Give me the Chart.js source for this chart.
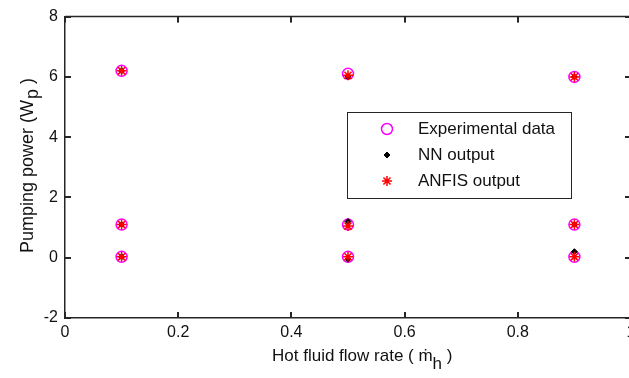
<!DOCTYPE html>
<html>
<head>
<meta charset="utf-8">
<script src="https://cdn.jsdelivr.net/npm/chart.js@4.4.0/dist/chart.umd.min.js"></script>
<style>
  html, body { margin: 0; padding: 0; background: #fff; overflow: hidden; }
  #wrap { width: 700px; height: 378px; }
</style>
</head>
<body>
<div id="wrap"><canvas id="myChart" width="700" height="378"></canvas></div>
<script>
// flow rate points (x) and the three series
const flowRate = [0.1, 0.1, 0.1, 0.5, 0.5, 0.5, 0.9, 0.9, 0.9];
const experimental = [6.2, 1.1, 0.03, 6.1, 1.1, 0.03, 6.0, 1.1, 0.03];
const nnOutput = [6.2, 1.1, 0.03, 6.0, 1.2, -0.05, 6.0, 1.1, 0.2];
const anfisOutput = [6.2, 1.1, 0.03, 6.05, 1.05, 0.03, 6.0, 1.1, 0.03];

const xTicks = [0, 0.2, 0.4, 0.6, 0.8, 1];
const yTicks = [-2, 0, 2, 4, 6, 8];

const FONT = '"Liberation Sans", Arial, "DejaVu Sans", sans-serif';
const AXIS = '#262626';

const pts = (ys) => ys.map((y, i) => ({ x: flowRate[i], y: y }));

// axis titles with sub-scripts, inward ticks, top/right box, legend box
const extras = {
    id: 'extras',
    afterDraw(chart) {
        const ctx = chart.ctx;
        const a = chart.chartArea;
        const xs = chart.scales.x, ys = chart.scales.y;
        ctx.save();

        // box top + right
        ctx.strokeStyle = AXIS;
        ctx.lineWidth = 1.5;
        ctx.beginPath();
        ctx.moveTo(a.left, a.top);
        ctx.lineTo(a.right, a.top);
        ctx.lineTo(a.right, a.bottom);
        ctx.stroke();

        // inward ticks
        ctx.fillStyle = AXIS;
        xTicks.forEach(v => {
            const px = Math.round(xs.getPixelForValue(v));
            ctx.fillRect(px - 1, a.bottom - 6, 2, 6);
            ctx.fillRect(px - 1, a.top, 2, 6);
        });
        yTicks.forEach(v => {
            const py = Math.round(ys.getPixelForValue(v));
            ctx.fillRect(a.left, py - 1, 6, 2);
            ctx.fillRect(a.right - 6, py - 1, 6, 2);
        });

        // x title: Hot fluid flow rate ( m-dot_h )
        ctx.fillStyle = '#111';
        ctx.font = '17px ' + FONT;
        ctx.textBaseline = 'alphabetic';
        ctx.textAlign = 'left';
        let x = 272;
        const base = 361;
        const s1 = 'Hot fluid flow rate ( ';
        ctx.fillText(s1, x, base); x += ctx.measureText(s1).width;
        ctx.fillText('\u1E41', x, base); x += ctx.measureText('\u1E41').width;
        ctx.fillText('h', x, base + 8); x += ctx.measureText('h').width;
        ctx.fillText(' )', x, base);

        // y title: Pumping power (W_p)
        ctx.font = '18px ' + FONT;
        ctx.translate(33, 253);
        ctx.rotate(-Math.PI / 2);
        let u = 0;
        const t1 = 'Pumping power (W';
        ctx.fillText(t1, u, 0); u += ctx.measureText(t1).width;
        ctx.fillText('p', u + 1, 5); u += ctx.measureText('p').width + 1;
        ctx.fillText(' )', u, 0);
        ctx.setTransform(1, 0, 0, 1, 0, 0);

        // legend
        ctx.strokeStyle = AXIS;
        ctx.lineWidth = 1;
        ctx.fillStyle = '#fff';
        ctx.fillRect(347, 112, 224, 86);
        ctx.strokeRect(347.5, 112.5, 224, 86);
        const rows = [129, 155, 181];
        const names = ['Experimental data', 'NN output', 'ANFIS output'];
        chart.data.datasets.forEach((ds, i) => {
            ctx.fillStyle = ds.pointBackgroundColor;
            ctx.strokeStyle = ds.pointBorderColor;
            ctx.lineWidth = ds.pointBorderWidth;
            Chart.helpers.drawPoint(ctx, {
                pointStyle: ds.pointStyle,
                radius: ds.pointRadius,
                borderWidth: ds.pointBorderWidth
            }, 387, rows[i]);
            ctx.fillStyle = '#111';
            ctx.font = '17px ' + FONT;
            ctx.textBaseline = 'middle';
            ctx.fillText(names[i], 418, rows[i]);
        });
        ctx.restore();
    }
};

const config = {
    type: 'scatter',
    data: {
        datasets: [{
            label: 'Experimental data',
            data: pts(experimental),
            pointStyle: 'circle',
            pointRadius: 5.5,
            pointBorderWidth: 1.5,
            pointBorderColor: '#ff00ff',
            pointBackgroundColor: 'rgba(0,0,0,0)',
            order: 3
        }, {
            label: 'NN output',
            data: pts(nnOutput),
            pointStyle: 'rectRot',
            pointRadius: 3,
            pointBorderWidth: 1,
            pointBorderColor: '#000',
            pointBackgroundColor: '#000',
            order: 2
        }, {
            label: 'ANFIS output',
            data: pts(anfisOutput),
            pointStyle: 'star',
            pointRadius: 5,
            pointBorderWidth: 1.5,
            pointBorderColor: '#ff0000',
            pointBackgroundColor: '#ff0000',
            order: 1
        }]
    },
    options: {
        responsive: false,
        animation: false,
        layout: { padding: { left: 0, right: 69, top: 16, bottom: 0 } },
        plugins: {
            legend: { display: false },
            tooltip: { enabled: false }
        },
        scales: {
            x: {
                type: 'linear',
                min: 0,
                max: 1,
                afterFit: (s) => { s.height = 60; },
                afterBuildTicks: (s) => { s.ticks = xTicks.map(v => ({ value: v })); },
                grid: { display: false, drawTicks: false },
                border: { display: true, color: AXIS, width: 1.5 },
                ticks: {
                    padding: 5,
                    color: '#111',
                    font: { family: FONT, size: 16 },
                    maxRotation: 0,
                    callback: (v) => String(v)
                }
            },
            y: {
                type: 'linear',
                min: -2,
                max: 8,
                afterFit: (s) => { s.width = 65; },
                afterBuildTicks: (s) => { s.ticks = yTicks.map(v => ({ value: v })); },
                grid: { display: false, drawTicks: false },
                border: { display: true, color: AXIS, width: 1.5 },
                ticks: {
                    padding: 7,
                    color: '#111',
                    font: { family: FONT, size: 16 },
                    callback: (v) => String(v)
                }
            }
        }
    },
    plugins: [extras]
};

new Chart(document.getElementById('myChart'), config);
</script>
</body>
</html>
